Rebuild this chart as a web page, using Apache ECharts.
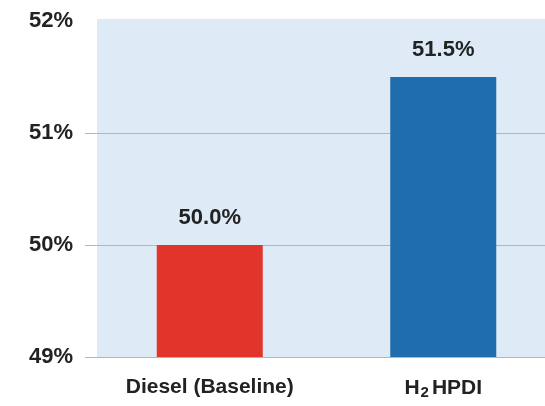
<!DOCTYPE html>
<html>
<head>
<meta charset="utf-8">
<style>
  html, body { margin: 0; padding: 0; background: #fff; }
  #chart { width: 545px; height: 406px; }
</style>
<script src="https://cdn.jsdelivr.net/npm/echarts@6/dist/echarts.min.js"></script>
</head>
<body>
<div id="chart"></div>
<script>
const categories = ['Diesel (Baseline)', 'H2HPDI']
const values = [50.0, 51.5]
const barColors = ['#e1352b', '#1f6cae']
const yTicks = [49, 50, 51, 52]

const font = '"Liberation Sans", Arial, sans-serif'
const lineColor = '#a7b9c8'

let chart = echarts.init(document.getElementById('chart'))
chart.setOption({
    animation: false,
    graphic: [
        {
            type: 'rect',
            z: -10,
            shape: { x: 97, y: 19, width: 448, height: 338 },
            style: { fill: '#deebf6' }
        }
    ],
    grid: {
        left: 93,
        top: 21,
        bottom: 49,
        right: -15,
        outerBoundsMode: 'none',
        containLabel: false
    },
    xAxis: {
        type: 'category',
        data: categories,
        axisLine: { show: false },
        axisTick: { show: false },
        axisLabel: {
            interval: 0,
            margin: 20,
            color: '#222',
            fontFamily: font,
            fontWeight: 'bold',
            fontSize: 21,
            formatter: function (v) {
                return v === 'H2HPDI' ? '{h|H}{sub|2}{h|HPDI}' : v
            },
            rich: {
                h: { fontFamily: font, fontWeight: 'bold', fontSize: 21, color: '#222' },
                sub: { fontFamily: font, fontWeight: 'bold', fontSize: 15, color: '#222', verticalAlign: 'bottom', padding: [8, 3, 0, 1] }
            }
        }
    },
    yAxis: {
        type: 'value',
        min: yTicks[0],
        max: yTicks[yTicks.length - 1],
        interval: 1,
        axisLine: { show: false },
        axisTick: {
            show: true,
            length: 8,
            customValues: yTicks.slice(0, 3),
            lineStyle: { color: lineColor }
        },
        splitLine: {
            lineStyle: { color: [lineColor, lineColor, lineColor, 'rgba(0,0,0,0)'] }
        },
        axisLabel: {
            margin: 20,
            padding: [5, 0, 0, 0],
            color: '#222',
            fontFamily: font,
            fontWeight: 'bold',
            fontSize: 22,
            formatter: '{value}%'
        }
    },
    series: [
        {
            type: 'bar',
            barWidth: 106,
            data: values.map((v, i) => ({ value: v, itemStyle: { color: barColors[i] } })),
            label: {
                show: true,
                position: 'top',
                distance: 16,
                color: '#222',
                fontFamily: font,
                fontWeight: 'bold',
                fontSize: 22,
                formatter: p => p.value.toFixed(1) + '%'
            }
        }
    ]
});
</script>
</body>
</html>
